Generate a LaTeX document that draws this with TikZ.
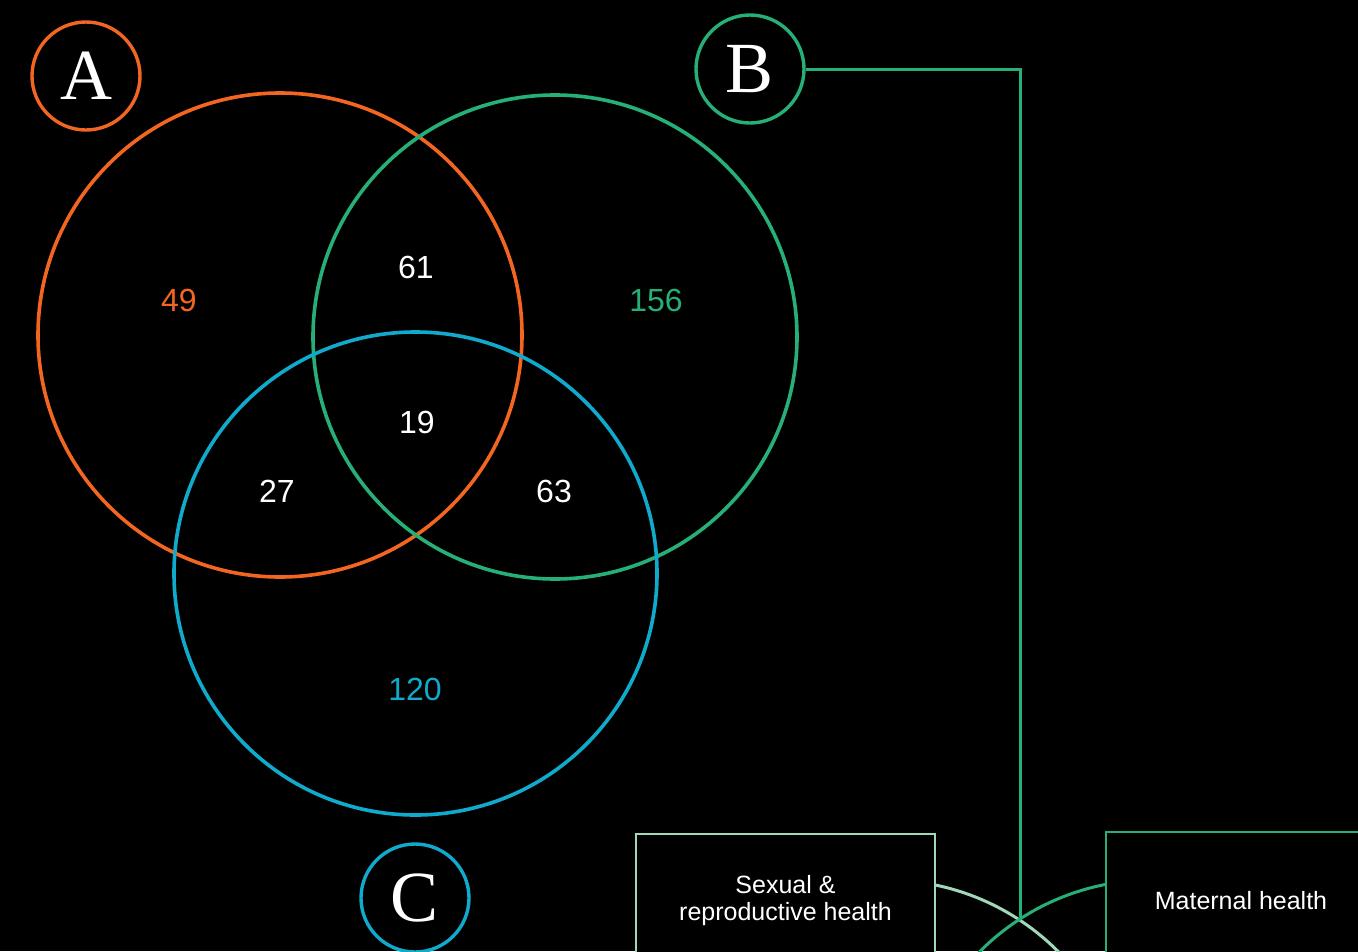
\documentclass[tikz,border=0pt]{standalone}
\usepackage{fontspec}
\setmainfont{Liberation Serif}
\setsansfont{Liberation Sans}
\usepackage{tikz}
\usetikzlibrary{calc}
\definecolor{jingga}{RGB}{242,102,34}
\definecolor{hijau}{RGB}{38,176,120}
\definecolor{biru}{RGB}{16,170,204}
\definecolor{hijaumuda}{RGB}{160,216,184}

\begin{document}
\begin{tikzpicture}[x=1pt,y=-1pt,
    lingkaran/.style={line width=3.6pt},
    garis/.style={line width=3pt},
    angka/.style={font=\sffamily\fontsize{32}{32}\selectfont},
    huruf/.style={circle,draw,line width=3.4pt,minimum size=108pt,inner sep=0pt,text=white,font=\rmfamily\fontsize{72}{72}\selectfont},
    kotak/.style={draw,line width=2.6pt,fill=black,text=white,align=center,inner sep=0pt,font=\sffamily\fontsize{25}{27}\selectfont}]

    % Latar hitam dan batas gambar
    \fill[black] (0,0) rectangle (1358,951);
    \useasboundingbox (0,0) rectangle (1358,951);
    \clip (0,0) rectangle (1358,951);

    % Gambar tiga lingkaran diagram Venn
    \draw[lingkaran,jingga] (280,335) circle (242);
    \draw[lingkaran,hijau] (555,337) circle (242);
    \draw[lingkaran,biru] (415.5,573.5) circle (241.5);

    % Gambar angka pada setiap daerah
    \node[angka,text=jingga] (nA) at (179,300) {49};
    \node[angka,text=hijau] (nB) at (656,300) {156};
    \node[angka,text=biru] (nC) at (415,689) {120};
    \node[angka,text=white] (nAB) at (416,267) {61};
    \node[angka,text=white] (nABC) at (417,422) {19};
    \node[angka,text=white] (nAC) at (277,491) {27};
    \node[angka,text=white] (nBC) at (554,491) {63};

    % Gambar label huruf dalam lingkaran kecil
    \node[huruf,draw=jingga] (A) at (86,76) {A};
    \node[huruf,draw=hijau] (B) at (750,69) {B};
    \node[huruf,draw=biru] (C) at (415,898) {C};

    % Gambar lingkaran bawah (terpotong tepi gambar)
    \draw[garis,hijaumuda] (886,1123) circle (243);
    \draw[garis,hijau] (1152,1123) circle (243);

    % Gambar kotak kategori
    \node[kotak,draw=hijaumuda,minimum width=299pt,minimum height=134pt] (srh) at (785.5,901) {Sexual \&\\reproductive health};
    \node[kotak,draw=hijau,minimum width=270pt,minimum height=138pt] (mh) at (1241,901) {Maternal health};

    % Gambar garis penghubung dari B ke titik potong
    \coordinate (potong) at (1020,917);
    \draw[garis,hijau] (B.east) -| (potong);

\end{tikzpicture}
\end{document}
